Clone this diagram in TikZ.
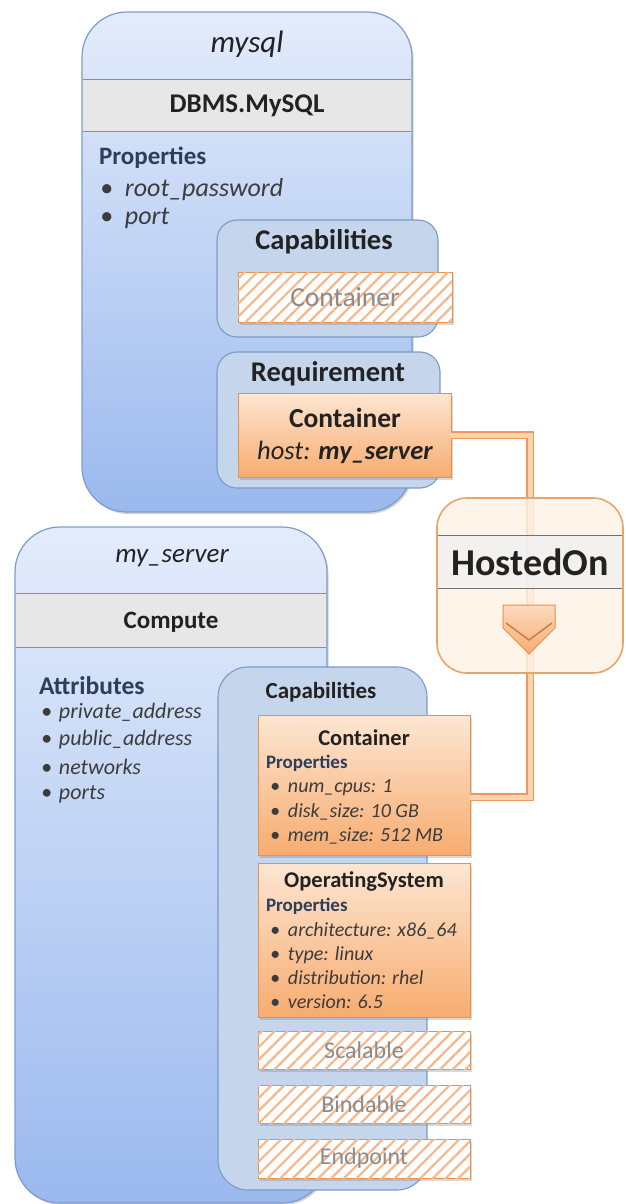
\documentclass[tikz,border=0pt]{standalone}
\usepackage{fontspec}
\setmainfont{Carlito}
\usetikzlibrary{shadows,patterns.meta,calc}
\definecolor{outtop}{HTML}{E3ECFB}
\definecolor{outbot}{HTML}{9BB9EE}
\definecolor{outline}{HTML}{7E9BCB}
\definecolor{capfill}{HTML}{C4D5EC}
\definecolor{capline}{HTML}{7B9BC8}
\definecolor{bandfill}{HTML}{E7E7E7}
\definecolor{bandline}{HTML}{8E8E8E}
\definecolor{ortop}{HTML}{FDE6D2}
\definecolor{orbot}{HTML}{F7AC70}
\definecolor{orline}{HTML}{E8914A}
\definecolor{hatch}{HTML}{F6B88A}
\definecolor{hatchtext}{HTML}{8C8C8C}
\definecolor{navy}{HTML}{2E3D5A}
\definecolor{dark}{HTML}{222222}
\definecolor{itemc}{HTML}{3C3C3C}
\definecolor{hostfill}{HTML}{FEF1E5}
\definecolor{hostline}{HTML}{E9A46A}
\definecolor{linkedge}{HTML}{EE9A5E}
\definecolor{linkfill}{HTML}{F9D2AE}
\newcommand\myfs[1]{\fontsize{#1}{#1}\selectfont}
\newcommand\mybul[1]{\makebox[#1][l]{\textbullet}}
\begin{document}
\begin{tikzpicture}[x=1pt,y=-1pt,
  every node/.style={inner sep=0pt, outer sep=0pt},
  outerbox/.style={rounded corners=45pt, top color=outtop, bottom color=outbot, draw=outline, line width=1.2pt, anchor=north west,
     drop shadow={shadow xshift=1.5pt, shadow yshift=-2pt, opacity=0.35}},
  capbox/.style={rounded corners=#1, fill=capfill, draw=capline, line width=1.1pt, anchor=north west},
  orbox/.style={top color=ortop, bottom color=orbot, draw=orline, line width=1pt, anchor=north west,
     drop shadow={shadow xshift=2pt, shadow yshift=-2.5pt, opacity=0.3}},
  hbox/.style={drop shadow={shadow xshift=2pt, shadow yshift=-2.5pt, opacity=0.3}, fill=white,
     postaction={pattern={Lines[angle=45,distance=9pt,line width=2.2pt]}, pattern color=hatch},
     draw=orline, line width=1pt, anchor=north west},
  htext/.style={text=hatchtext},
  ttl/.style={text=dark},
  prop/.style={anchor=west, text=navy},
  item/.style={anchor=west, text=itemc},
  link/.style={draw=linkedge, double=linkfill, line width=1.3pt, double distance=5pt},
]
\useasboundingbox (0,0) rectangle (626,1204);

% ---------------- mysql ----------------
\node[outerbox, minimum width=330pt, minimum height=500pt] (mysql) at (82,12) {};
\fill[bandfill] (82.6,80) rectangle (411.4,132);
\draw[bandline, line width=1pt] (82.6,80) -- (411.4,80) (82.6,132) -- (411.4,132);
\node[ttl, font=\myfs{31}\itshape] (mysqlt) at (247,44) {mysql};
\node[ttl, font=\myfs{27}\bfseries] (mysqltype) at (247,106) {DBMS.MySQL};
\node[prop, font=\myfs{25}\bfseries] (mprops) at (99,158) {Properties};
\node[item, font=\myfs{26}\itshape] (mp1) at (100,190) {\mybul{25pt}root\_password};
\node[item, font=\myfs{26}\itshape] (mp2) at (100,218) {\mybul{25pt}port};

\node[capbox=20pt, minimum width=221pt, minimum height=117pt] (mcap) at (217,220) {};
\node[ttl, font=\myfs{28.5}\bfseries] (mcapt) at (324,242) {Capabilities};
\node[hbox, minimum width=214pt, minimum height=50pt] (mcapc) at (238,272) {};
\node[htext, font=\myfs{27.5}] at (mcapc.center) {Container};

\node[capbox=20pt, minimum width=223pt, minimum height=136pt] (mreq) at (217,352) {};
\node[ttl, font=\myfs{28.5}\bfseries] (mreqt) at (328,374) {Requirement};
\node[orbox, minimum width=213pt, minimum height=84pt] (reqc) at (238,393) {};
\node[ttl, font=\myfs{27.5}\bfseries] (reqct) at (345,418) {Container};
\node[ttl, font=\myfs{26.5}] (reqch) at (345,452) {\itshape host: \bfseries my\_server};

% ---------------- my_server ----------------
\node[outerbox, minimum width=312pt, minimum height=676pt] (srv) at (15,527) {};
\fill[bandfill] (15.6,593) rectangle (326.4,647);
\draw[bandline, line width=1pt] (15.6,593) -- (326.4,593) (15.6,647) -- (326.4,647);
\node[ttl, font=\myfs{27}\itshape] (srvt) at (172,558) {my\_server};
\node[ttl, font=\myfs{25}\bfseries] (srvtype) at (171,622) {Compute};
\node[prop, font=\myfs{25.5}\bfseries] (sattr) at (39,686) {Attributes};
\node[item, font=\myfs{22}\itshape] (sa1) at (41,713) {\mybul{18pt}private\_address};
\node[item, font=\myfs{22}\itshape] (sa2) at (41,740) {\mybul{18pt}public\_address};
\node[item, font=\myfs{22}\itshape] (sa3) at (41,767) {\mybul{18pt}networks};
\node[item, font=\myfs{22}\itshape] (sa4) at (41,794) {\mybul{18pt}ports};

\node[capbox=30pt, minimum width=209pt, minimum height=523pt] (scap) at (218,667) {};
\node[ttl, font=\myfs{23}\bfseries] (scapt) at (321,692) {Capabilities};

\node[orbox, minimum width=212pt, minimum height=140pt] (srvc) at (258,715) {};
\node[ttl, font=\myfs{22.5}\bfseries] (srvct) at (364,738) {Container};
\node[prop, font=\myfs{19}\bfseries] (scp) at (266,763) {Properties};
\node[item, font=\myfs{20}\itshape] at (270,788) {\mybul{18pt}num\_cpus: 1};
\node[item, font=\myfs{20}\itshape] at (270,812) {\mybul{18pt}disk\_size: 10 GB};
\node[item, font=\myfs{20}\itshape] at (270,836) {\mybul{18pt}mem\_size: 512 MB};

\node[orbox, minimum width=212pt, minimum height=154pt] (srvos) at (258,863) {};
\node[ttl, font=\myfs{22.5}\bfseries] (srvost) at (364,881) {OperatingSystem};
\node[prop, font=\myfs{19}\bfseries] (sop) at (266,906) {Properties};
\node[item, font=\myfs{20}\itshape] at (270,931) {\mybul{18pt}architecture: x86\_64};
\node[item, font=\myfs{20}\itshape] at (270,955) {\mybul{18pt}type: linux};
\node[item, font=\myfs{20}\itshape] at (270,978) {\mybul{18pt}distribution: rhel};
\node[item, font=\myfs{20}\itshape] at (270,1002) {\mybul{18pt}version: 6.5};

\node[hbox, minimum width=212pt, minimum height=38pt] (scal) at (258,1031) {};
\node[htext, font=\myfs{24}] at (scal.center) {Scalable};
\node[hbox, minimum width=212pt, minimum height=38pt] (bind) at (258,1085) {};
\node[htext, font=\myfs{24}] at (bind.center) {Bindable};
\node[hbox, minimum width=212pt, minimum height=39pt] (endp) at (258,1139) {};
\node[htext, font=\myfs{24}] at (endp.center) {Endpoint};

% ---------------- HostedOn relationship ----------------
\coordinate (hostx) at (530,0);
\coordinate (srvcon) at ([yshift=-12pt]srvc.east);
\draw[link] (reqc.east) -- (reqc.east -| hostx) -- (hostx |- srvcon) -- (srvcon);

\node[anchor=north west, minimum width=186pt, minimum height=175pt, rounded corners=30pt,
      fill=hostfill, fill opacity=0.82, draw=hostline, line width=1.6pt] (hosted) at (437,498) {};
\fill[fill=bandfill!60!white, fill opacity=0.8] (437.8,535) rectangle (622.2,588);
\draw[bandline!80!black, line width=1pt] (437.8,535) -- (622.2,535) (437.8,588) -- (622.2,588);
\node[ttl, font=\myfs{38}\bfseries] (hostedt) at (530,562) {HostedOn};
\draw[orline, line width=1pt, top color=ortop!80!orbot, bottom color=orbot]
  (503,605) -- (555,605) -- (555,628) -- (529,654) -- (503,628) -- cycle;
\draw[orline!85!black, line width=1.4pt] (506,623) -- (529,640) -- (552,623);
\end{tikzpicture}
\end{document}
